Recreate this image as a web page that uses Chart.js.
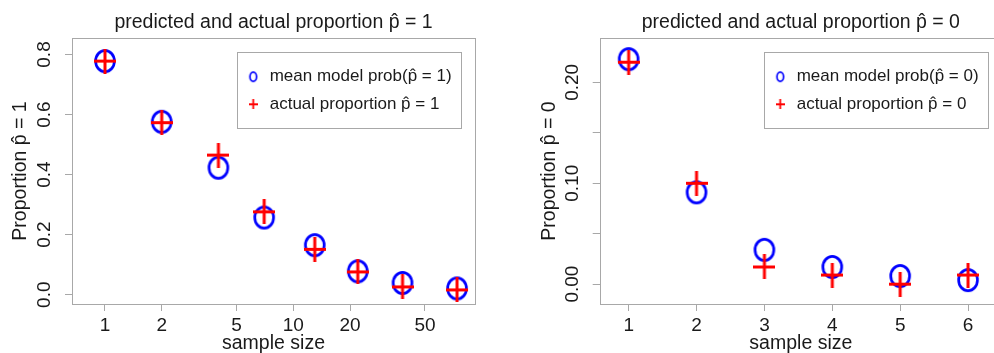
<!DOCTYPE html>
<html>
<head>
<meta charset="utf-8">
<script src="https://cdn.jsdelivr.net/npm/chart.js@4.4.1/dist/chart.umd.min.js"></script>
<style>
  body { margin: 0; background: #fff; overflow: hidden; width: 994px; height: 353px; position: relative; }
  #left { position: absolute; left: 0; top: 0; }
  #right { position: absolute; left: 497px; top: 0; }
</style>
</head>
<body>
<canvas id="left" width="497" height="353"></canvas>
<canvas id="right" width="520" height="353"></canvas>
<script>
// left panel: p-hat = 1, log sample size
const sizes1 = [1, 2, 4, 7, 13, 22, 38, 74];
const meanProb1 = [0.778, 0.576, 0.423, 0.257, 0.165, 0.078, 0.039, 0.021];
const actual1 = [0.778, 0.573, 0.465, 0.276, 0.151, 0.076, 0.026, 0.016];
const xTicks1 = [1, 2, 5, 10, 20, 50];
const yTicks1 = [0, 0.2, 0.4, 0.6, 0.8];

// right panel: p-hat = 0
const sizes2 = [1, 2, 3, 4, 5, 6];
const meanProb0 = [0.223, 0.091, 0.034, 0.017, 0.008, 0.004];
const actual0 = [0.220, 0.100, 0.017, 0.009, 0.000, 0.009];
const xTicks2 = [1, 2, 3, 4, 5, 6];
const yTicks2 = [0, 0.05, 0.10, 0.15, 0.20];
const yLabels2 = ['0.00', '', '0.10', '', '0.20'];

const BLUE = '#0000ff';
const RED = '#ff0000';
const GREY = '#a8a8a8';
const INK = '#1a1a1a';
const FONT = '"Liberation Sans", Arial, sans-serif';

Chart.defaults.font.family = FONT;
Chart.defaults.font.size = 19;
Chart.defaults.color = INK;

function ellipseImg(rx, ry, lw, color) {
  const c = document.createElement('canvas');
  c.width = Math.ceil(2 * rx + lw + 2);
  c.height = Math.ceil(2 * ry + lw + 2);
  const g = c.getContext('2d');
  g.strokeStyle = color;
  g.lineWidth = lw;
  g.beginPath();
  g.ellipse(c.width / 2, c.height / 2, rx, ry, 0, 0, Math.PI * 2);
  g.stroke();
  return c;
}

function crossImg(w, h, lw, color) {
  const c = document.createElement('canvas');
  c.width = w;
  c.height = h;
  const g = c.getContext('2d');
  g.strokeStyle = color;
  g.lineWidth = lw;
  g.beginPath();
  g.moveTo(0, h / 2); g.lineTo(w, h / 2);
  g.moveTo(w / 2, 0); g.lineTo(w / 2, h);
  g.stroke();
  return c;
}

const circleMark = ellipseImg(9.4, 10.6, 2.7, BLUE);
const crossMark = crossImg(22, 25, 3, RED);
const circleSmall = ellipseImg(3.3, 4.6, 1.7, BLUE);
const crossSmall = crossImg(9, 10, 1.8, RED);

// plot box
const boxPlugin = {
  id: 'plotBox',
  afterDraw(chart) {
    const a = chart.chartArea, ctx = chart.ctx;
    ctx.save();
    ctx.strokeStyle = GREY;
    ctx.lineWidth = 1;
    ctx.strokeRect(Math.round(a.left) + 0.5, Math.round(a.top) + 0.5,
      Math.round(a.right - a.left), Math.round(a.bottom - a.top));
    ctx.restore();
  }
};

// R style legend inside the top right corner
const rLegend = {
  id: 'rLegend',
  afterDraw(chart) {
    const a = chart.chartArea, ctx = chart.ctx;
    const w = 223.5, h = 76;
    const x0 = a.right - 14.3 - w, y0 = a.top + 13.7;
    ctx.save();
    ctx.fillStyle = '#fff';
    ctx.fillRect(x0, y0, w, h);
    ctx.strokeStyle = GREY;
    ctx.lineWidth = 1;
    ctx.strokeRect(Math.round(x0) + 0.5, Math.round(y0) + 0.5, Math.round(w), Math.round(h));
    const rows = [y0 + 25, y0 + 52.6];
    const marks = [circleSmall, crossSmall];
    ctx.font = '17px ' + FONT;
    ctx.fillStyle = INK;
    ctx.textBaseline = 'middle';
    chart.data.datasets.forEach((ds, i) => {
      const m = marks[i];
      ctx.drawImage(m, x0 + 16 - m.width / 2, rows[i] - m.height / 2);
      ctx.fillText(ds.label, x0 + 32.5, rows[i]);
    });
    ctx.restore();
  }
};

function pairs(xs, ys) {
  return xs.map((x, i) => ({ x: x, y: ys[i] }));
}

function tickGrid() {
  return { drawOnChartArea: false, drawTicks: true, tickLength: 7, color: GREY, lineWidth: 1 };
}

function makeChart(id, cfg) {
  return new Chart(document.getElementById(id), {
    type: 'scatter',
    data: {
      datasets: [
        { label: cfg.meanLabel, data: pairs(cfg.xs, cfg.mean), pointStyle: circleMark, order: 2 },
        { label: cfg.actLabel, data: pairs(cfg.xs, cfg.act), pointStyle: crossMark, order: 1 }
      ]
    },
    options: {
      responsive: false,
      animation: false,
      events: [],
      layout: { padding: { left: 0, right: cfg.padRight, top: 0, bottom: 0 } },
      plugins: {
        legend: { display: false },
        tooltip: { enabled: false },
        title: {
          display: true,
          text: cfg.title,
          fullSize: false,
          color: INK,
          font: { size: 19.5, weight: 'normal' },
          padding: { top: 11.4, bottom: 3.2 }
        }
      },
      scales: {
        x: {
          type: cfg.xType,
          min: cfg.xMin,
          max: cfg.xMax,
          grid: tickGrid(),
          border: { display: false },
          afterBuildTicks: s => { s.ticks = cfg.xTicks.map(v => ({ value: v })); },
          afterFit: s => { s.height = 49; },
          ticks: { padding: 3, maxRotation: 0, autoSkip: false, color: INK, callback: v => String(v) },
          title: { display: true, text: 'sample size', color: INK, font: { size: 19.5 }, padding: { top: 0, bottom: -2 } }
        },
        y: {
          min: cfg.yMin,
          max: cfg.yMax,
          grid: tickGrid(),
          border: { display: false },
          afterBuildTicks: s => { s.ticks = cfg.yTicks.map(v => ({ value: v })); },
          afterFit: s => { s.width = cfg.yWidth; },
          ticks: {
            padding: cfg.yTickPad, minRotation: 90, maxRotation: 90, crossAlign: 'center',
            autoSkip: false, color: INK, callback: (v, i) => cfg.yLabel(v, i)
          },
          title: { display: true, text: cfg.yTitle, color: INK, font: { size: 19.5 }, padding: { top: cfg.yTitlePad, bottom: 0 } }
        }
      }
    },
    plugins: [boxPlugin, rLegend]
  });
}

makeChart('left', {
  xs: sizes1, mean: meanProb1, act: actual1,
  meanLabel: 'mean model prob(p\u0302 = 1)',
  actLabel: 'actual proportion p\u0302 = 1',
  title: 'predicted and actual proportion p\u0302 = 1',
  yTitle: 'Proportion p\u0302 = 1',
  xType: 'logarithmic', xMin: 0.668, xMax: 92.2, xTicks: xTicks1,
  yMin: -0.031, yMax: 0.855, yTicks: yTicks1,
  yLabel: v => v.toFixed(1),
  yWidth: 72, yTickPad: 6.8, yTitlePad: 9.3, padRight: 22
});

makeChart('right', {
  xs: sizes2, mean: meanProb0, act: actual0,
  meanLabel: 'mean model prob(p\u0302 = 0)',
  actLabel: 'actual proportion p\u0302 = 0',
  title: 'predicted and actual proportion p\u0302 = 0',
  yTitle: 'Proportion p\u0302 = 0',
  xType: 'linear', xMin: 0.573, xMax: 6.5, xTicks: xTicks2,
  yMin: -0.0197, yMax: 0.244, yTicks: yTicks2,
  yLabel: (v, i) => yLabels2[i],
  yWidth: 102.7, yTickPad: 1.2, yTitlePad: 40.7, padRight: 15
});
</script>
</body>
</html>
